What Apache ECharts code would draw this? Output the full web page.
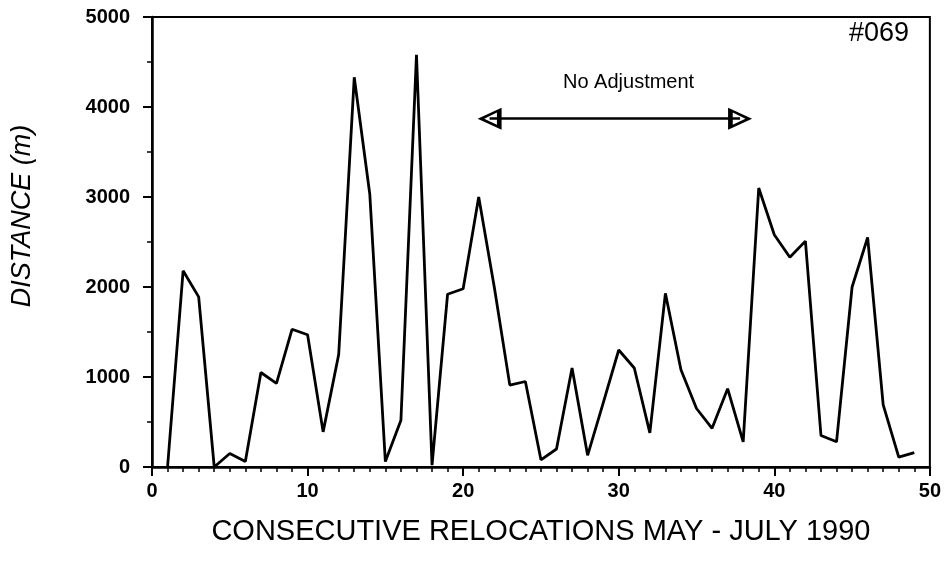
<!DOCTYPE html>
<html>
<head>
<meta charset="utf-8">
<script src="https://cdn.jsdelivr.net/npm/echarts@6/dist/echarts.min.js"></script>
<style>
html,body{margin:0;padding:0;background:#fff;}
#chart{width:944px;height:567px;}
</style>
</head>
<body>
<div id="chart"></div>
<script>
// relocation number (x) and distance moved in metres (y)
var relocations = [1,2,3,4,5,6,7,8,9,10,11,12,13,14,15,16,17,18,19,20,21,22,23,24,25,26,27,28,29,30,31,32,33,34,35,36,37,38,39,40,41,42,43,44,45,46,47,48,49]
var distances = [0,2180,1890,0,150,60,1050,930,1530,1470,390,1250,4330,3030,60,520,4580,20,1920,1980,3000,2000,910,950,80,200,1100,130,710,1300,1100,380,1930,1080,650,430,870,280,3100,2580,2330,2510,350,280,2000,2550,690,110,160]

var xTicks = [0,10,20,30,40,50]
var yTicks = [0,1000,2000,3000,4000,5000]

// "No Adjustment" double arrow span
var arrowFrom = [21.7, 3870]
var arrowTo = [37.8, 3870]

var chart = echarts.init(document.getElementById('chart'))

// hollow arrow head
var openHead = 'path://M0,0 L9,18 L-9,18 Z M0,5 L-5,14.5 L5,14.5 Z'

var font = '"Liberation Sans", Arial, sans-serif'

chart.setOption({
	animation: false,
	backgroundColor: '#fff',
	grid: {
		left: 152,
		right: 14,
		top: 17,
		bottom: 100,
		show: true,
		borderColor: '#000',
		borderWidth: 2
	},
	xAxis: {
		type: 'value',
		min: xTicks[0],
		max: xTicks[xTicks.length - 1],
		interval: 10,
		name: 'CONSECUTIVE RELOCATIONS MAY - JULY 1990',
		nameLocation: 'middle',
		nameGap: 50,
		nameTextStyle: {color: '#000', fontSize: 29, fontFamily: font},
		axisLine: {lineStyle: {color: '#000', width: 2.5}},
		axisTick: {length: 9, lineStyle: {color: '#000', width: 2}},
		minorTick: {show: true, splitNumber: 10, length: 5, lineStyle: {color: '#000', width: 1.5}},
		splitLine: {show: false},
		axisLabel: {color: '#000', fontSize: 20, fontFamily: font, margin: 14, fontWeight: 'bold'}
	},
	yAxis: {
		type: 'value',
		min: yTicks[0],
		max: yTicks[yTicks.length - 1],
		interval: 1000,
		axisLine: {lineStyle: {color: '#000', width: 2.5}},
		axisTick: {length: 9, lineStyle: {color: '#000', width: 2}},
		minorTick: {show: true, splitNumber: 2, length: 5, lineStyle: {color: '#000', width: 1.5}},
		splitLine: {show: false},
		axisLabel: {
			color: '#000', fontSize: 20, fontFamily: font, margin: 22, fontWeight: 'bold',
			formatter: function (v) { return String(v) }
		}
	},
	series: [
		{
			type: 'line',
			data: relocations.map(function (r, i) { return [r, distances[i]] }),
			showSymbol: false,
			symbol: 'none',
			lineStyle: {color: '#000', width: 2.8},
			markLine: {
				silent: true,
				symbol: [openHead, openHead],
				symbolSize: [22, 24],
				lineStyle: {color: '#000', width: 2.5, type: 'solid'},
				label: {show: false},
				data: [[{coord: arrowFrom}, {coord: arrowTo}]]
			}
		}
	],
	graphic: [
		{
			// y axis title, sits a bit above the axis middle in the original
			type: 'text',
			x: 22,
			y: 216,
			rotation: Math.PI / 2,
			style: {
				text: 'DISTANCE (m)', fill: '#000',
				font: 'italic 27px ' + font,
				align: 'center', verticalAlign: 'middle'
			}
		},
		{
			type: 'text',
			left: 563,
			top: 72,
			style: {text: 'No Adjustment', fill: '#000', font: '20px ' + font}
		},
		{
			type: 'text',
			left: 849,
			top: 20,
			style: {text: '#069', fill: '#000', font: '27px ' + font}
		}
	]
})
</script>
</body>
</html>
